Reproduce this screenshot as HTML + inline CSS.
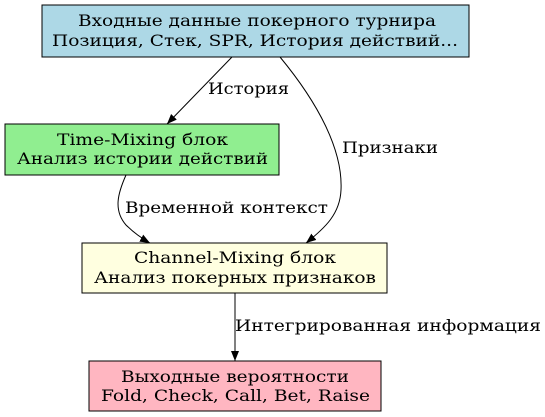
<!DOCTYPE html>
<html><head><meta charset="utf-8"><style>
html,body{margin:0;padding:0;background:#fff;}
svg{display:block;}
text{font-family:"DejaVu Serif","Liberation Serif",serif;font-size:15.5px;fill:#000;}
</style></head><body>
<svg width="545" height="417" viewBox="0 0 545 417" xmlns="http://www.w3.org/2000/svg">
<defs>
<marker id="a" markerWidth="10" markerHeight="8" refX="10" refY="4" orient="auto" markerUnits="userSpaceOnUse">
<polygon points="0,0 10,4 0,8" fill="#000"/>
</marker>
</defs>
<rect x="42" y="5" width="427" height="52" fill="#add8e6" stroke="#000"/>
<text x="78" y="26" textLength="358" lengthAdjust="spacingAndGlyphs">Входные данные покерного турнира</text>
<text x="52" y="46" textLength="406" lengthAdjust="spacingAndGlyphs">Позиция, Стек, SPR, История действий...</text>

<rect x="5" y="124" width="274" height="51" fill="#90ee90" stroke="#000"/>
<text x="57" y="145" textLength="171" lengthAdjust="spacingAndGlyphs">Time-Mixing блок</text>
<text x="17" y="164" textLength="251" lengthAdjust="spacingAndGlyphs">Анализ истории действий</text>

<rect x="82" y="243" width="305" height="50" fill="#ffffe0" stroke="#000"/>
<text x="134" y="263" textLength="202" lengthAdjust="spacingAndGlyphs">Channel-Mixing блок</text>
<text x="94" y="283" textLength="282" lengthAdjust="spacingAndGlyphs">Анализ покерных признаков</text>

<rect x="89" y="361" width="292" height="50" fill="#ffb6c1" stroke="#000"/>
<text x="121" y="382" textLength="228" lengthAdjust="spacingAndGlyphs">Выходные вероятности</text>
<text x="101" y="401" textLength="269" lengthAdjust="spacingAndGlyphs">Fold, Check, Call, Bet, Raise</text>

<g fill="none" stroke="#000" stroke-width="1">
<path d="M232,57 L167,124" marker-end="url(#a)"/>
<path d="M280,57 C318,103 343,150 341,190 C340,214 325,228 306,243" marker-end="url(#a)"/>
<path d="M126,175 C118,193 113,210 126,225 C133,232 141,238 150,243" marker-end="url(#a)"/>
<path d="M235,293 L235,361" marker-end="url(#a)"/>
</g>
<text x="208" y="94" textLength="81" lengthAdjust="spacingAndGlyphs">История</text>
<text x="342" y="153" textLength="96" lengthAdjust="spacingAndGlyphs">Признаки</text>
<text x="125" y="213" textLength="203" lengthAdjust="spacingAndGlyphs">Временной контекст</text>
<text x="235" y="331" textLength="306" lengthAdjust="spacingAndGlyphs">Интегрированная информация</text>
</svg>
</body></html>
